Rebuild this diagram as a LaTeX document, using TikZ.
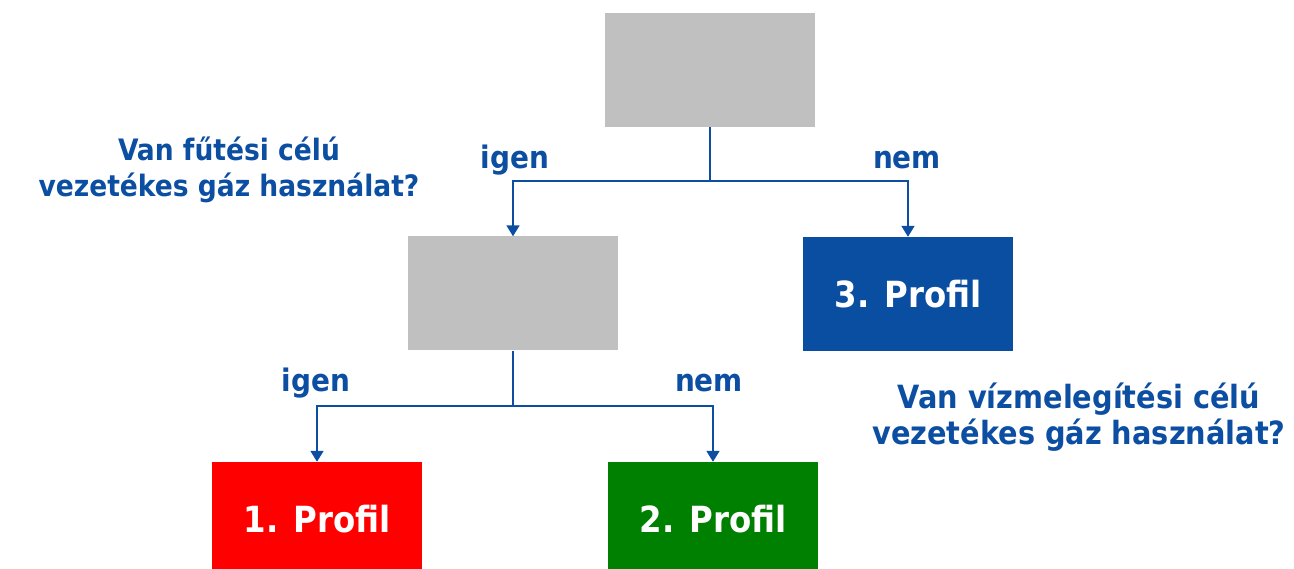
\documentclass[tikz,border=0pt]{standalone}
\usepackage{fontspec}
\setmainfont{DejaVu Sans Condensed}
\usetikzlibrary{arrows.meta}
\definecolor{txtblue}{HTML}{0B4EA2}
\definecolor{boxblue}{HTML}{0A4EA2}
\definecolor{boxgrey}{HTML}{C0C0C0}
\definecolor{boxred}{HTML}{FF0000}
\definecolor{boxgreen}{HTML}{008000}

\begin{document}
\begin{tikzpicture}[x=1pt, y=-1pt,
	qbox/.style={fill=boxgrey, minimum width=210pt, minimum height=114pt, inner sep=0pt},
	pbox/.style={minimum width=210pt, minimum height=114pt, inner sep=0pt, text=white, font=\fontsize{36}{40}\selectfont\bfseries},
	lbl/.style={text=txtblue, font=\fontsize{31}{36}\selectfont\bfseries, inner sep=0pt},
	qtxt/.style={text=txtblue, font=\fontsize{29.5}{35.5}\selectfont\bfseries, align=center, inner sep=0pt},
	conn/.style={draw=txtblue, line width=1.8pt, -{Triangle[width=13pt,length=11pt]}}]
	%%%%% START %%%%%
	
	\useasboundingbox (0, 0) rectangle (1294, 569);
	
	\node[qbox] (q1) at (710, 70) {};
	\node[qbox] (q2) at (513, 293.5) {};
	\node[pbox, fill=boxblue] (p3) at (908, 294) {3. Profil};
	\node[pbox, fill=boxred] (p1) at (317, 519) {1. Profil};
	\node[pbox, fill=boxgreen] (p2) at (713, 519) {2. Profil};
	
	\coordinate (s1) at (710, 181);
	\coordinate (s2) at (513, 406);
	
	\draw[conn] (q1.south) -- (s1) -| (q2);
	\draw[conn] (s1) -| (p3);
	\draw[conn] (q2.south) -- (s2) -| (p1);
	\draw[conn] (s2) -| (p2);
	
	\node[lbl] (yes1) at (515, 160) {igen};
	\node[lbl] (no1) at (907, 160) {nem};
	\node[lbl] (yes2) at (316, 383) {igen};
	\node[lbl] (no2) at (709, 383) {nem};
	
	\node[qtxt] (ask1) at (229, 170) {Van fűtési célú\\vezetékes gáz használat?};
	\node[qtxt, font=\fontsize{32}{36}\selectfont\bfseries] (ask2) at (1079, 417) {Van vízmelegítési célú\\vezetékes gáz használat?};
	
	%%%%% END %%%%%
\end{tikzpicture}
\end{document}
